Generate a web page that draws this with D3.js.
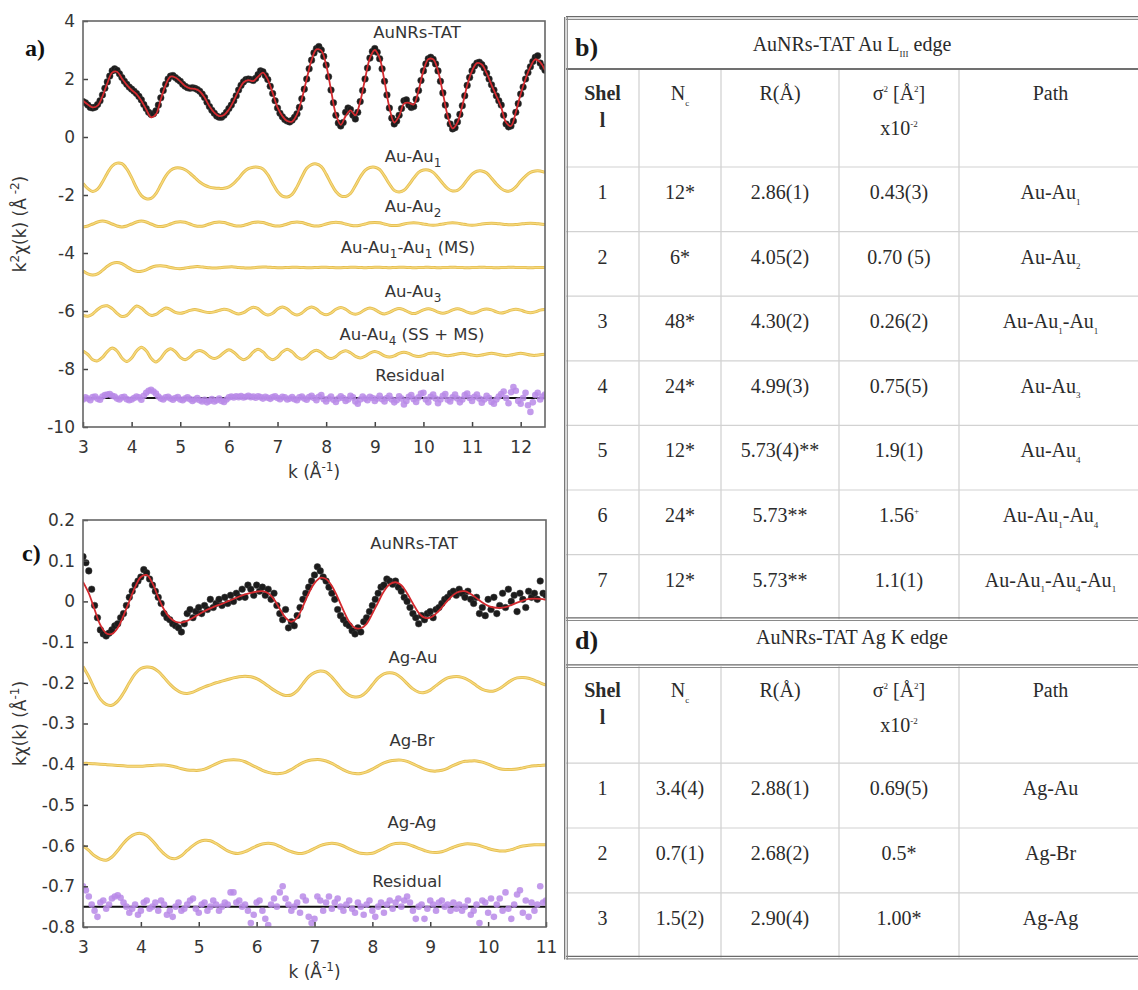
<!DOCTYPE html>
<html>
<head>
<meta charset="utf-8">
<script src="https://cdn.jsdelivr.net/npm/d3@7"></script>
<style>
  body { margin: 0; background: #fff; }
  svg { display: block; }
</style>
</head>
<body>
<svg id="fig" width="1138" height="990"></svg>
<script>
// ---------------- EXAFS data: k grid starts at 3 Å^-1 ----------------
const K_START = 3;
const FIT_STEP = 0.1;   // model curves sampled every 0.1 Å^-1
const DOT_STEP = 0.05;  // measured points every 0.05 Å^-1

// Au L3 edge, k^2-weighted chi(k)
const auFit = [
  1.25,1.12,1.02,1.08,1.40,1.85,2.22,2.25,2.02,1.80,
  1.62,1.48,1.25,0.95,0.68,0.78,1.30,1.80,2.08,2.05,
  1.92,1.76,1.68,1.66,1.58,1.36,1.06,0.84,0.72,0.76,
  0.95,1.25,1.60,1.88,1.96,1.93,2.08,2.22,1.98,1.52,
  1.02,0.72,0.55,0.53,0.78,1.32,2.00,2.65,3.02,2.98,
  2.48,1.62,0.78,0.42,0.72,0.92,0.75,1.22,2.00,2.72,
  3.00,2.72,1.92,1.02,0.50,0.72,1.15,1.18,1.12,1.60,
  2.28,2.68,2.68,2.28,1.52,0.72,0.30,0.50,1.08,1.78,
  2.28,2.55,2.50,2.20,1.80,1.42,1.02,0.50,0.38,0.85,
  1.48,2.00,2.42,2.68,2.58,2.30
];
const auData = [
  1.22,1.18,1.10,1.02,1.00,1.03,1.12,1.25,1.45,1.68,1.90,2.10,2.28,2.35,2.30,2.18,2.05,1.92,1.82,1.72,
  1.65,1.58,1.50,1.40,1.28,1.12,0.98,0.85,0.78,0.80,0.90,1.10,1.35,1.60,1.82,2.00,2.10,2.12,2.05,1.98,
  1.92,1.82,1.75,1.70,1.68,1.70,1.68,1.64,1.58,1.48,1.36,1.20,1.05,0.92,0.82,0.72,0.68,0.68,0.75,0.85,
  0.98,1.10,1.25,1.42,1.62,1.78,1.90,1.98,2.00,1.98,1.95,2.02,2.15,2.28,2.25,2.12,1.98,1.75,1.50,1.25,
  1.00,0.82,0.70,0.60,0.55,0.52,0.58,0.68,0.80,1.02,1.32,1.65,2.00,2.35,2.65,2.90,3.05,3.12,3.00,2.78,
  2.48,2.08,1.62,1.18,0.75,0.48,0.38,0.50,0.85,1.00,0.95,0.75,0.62,0.85,1.22,1.60,2.00,2.38,2.72,2.95,
  3.05,2.92,2.70,2.35,1.92,1.45,1.00,0.65,0.45,0.55,0.75,0.98,1.25,1.28,1.10,1.02,1.05,1.30,1.60,1.95,
  2.28,2.52,2.70,2.75,2.68,2.52,2.28,1.92,1.52,1.10,0.72,0.45,0.28,0.32,0.52,0.78,1.08,1.42,1.78,2.05,
  2.28,2.45,2.55,2.58,2.50,2.38,2.20,2.00,1.80,1.62,1.42,1.25,1.10,0.75,0.45,0.35,0.38,0.55,0.85,1.15,
  1.48,1.72,2.00,2.22,2.42,2.60,2.75,2.80,2.55,2.42,2.30
];
const auAu1 = [
  -1.60,-1.78,-1.88,-1.80,-1.55,-1.25,-1.00,-0.90,-0.92,-1.10,
  -1.40,-1.75,-2.02,-2.13,-2.12,-1.95,-1.65,-1.35,-1.15,-1.07,
  -1.07,-1.13,-1.25,-1.40,-1.55,-1.66,-1.73,-1.76,-1.77,-1.77,
  -1.72,-1.60,-1.42,-1.22,-1.09,-1.04,-1.04,-1.10,-1.30,-1.60,
  -1.88,-2.04,-2.07,-1.98,-1.72,-1.38,-1.08,-0.95,-0.93,-1.02,
  -1.28,-1.60,-1.88,-2.03,-2.05,-1.95,-1.68,-1.38,-1.15,-1.05,
  -1.04,-1.12,-1.35,-1.62,-1.84,-1.90,-1.84,-1.65,-1.42,-1.22,
  -1.14,-1.14,-1.22,-1.40,-1.60,-1.78,-1.86,-1.84,-1.70,-1.48,
  -1.28,-1.18,-1.17,-1.24,-1.42,-1.62,-1.78,-1.86,-1.85,-1.72,
  -1.52,-1.35,-1.22,-1.17,-1.17,-1.22
];
const auAu2 = [
  -3.10,-3.07,-3.00,-2.93,-2.90,-2.93,-3.00,-3.07,-3.10,-3.07,
  -3.00,-2.93,-2.90,-2.93,-3.00,-3.07,-3.09,-3.06,-3.00,-2.94,
  -2.92,-2.94,-3.00,-3.06,-3.08,-3.06,-3.00,-2.95,-2.93,-2.95,
  -3.00,-3.05,-3.07,-3.05,-3.00,-2.95,-2.93,-2.95,-3.00,-3.05,
  -3.07,-3.05,-3.00,-2.95,-2.93,-2.95,-3.00,-3.05,-3.07,-3.05,
  -3.00,-2.96,-2.94,-2.96,-3.00,-3.04,-3.06,-3.04,-3.00,-2.96,
  -2.95,-2.96,-3.00,-3.04,-3.05,-3.04,-3.00,-2.97,-2.96,-2.97,
  -3.00,-3.03,-3.04,-3.03,-3.00,-2.97,-2.96,-2.97,-3.00,-3.03,
  -3.04,-3.03,-3.00,-2.98,-2.97,-2.98,-3.00,-3.02,-3.03,-3.02,
  -3.00,-2.98,-2.97,-2.98,-3.00,-3.02
];
const auAu1Au1 = [
  -4.62,-4.72,-4.76,-4.72,-4.60,-4.46,-4.36,-4.33,-4.37,-4.47,
  -4.57,-4.63,-4.63,-4.58,-4.50,-4.45,-4.44,-4.46,-4.50,-4.53,
  -4.54,-4.52,-4.49,-4.47,-4.47,-4.49,-4.51,-4.52,-4.51,-4.49,
  -4.48,-4.48,-4.50,-4.51,-4.52,-4.51,-4.49,-4.48,-4.49,-4.50,
  -4.51,-4.51,-4.50,-4.49,-4.49,-4.50,-4.51,-4.51,-4.50,-4.49,
  -4.49,-4.50,-4.51,-4.51,-4.50,-4.49,-4.49,-4.50,-4.51,-4.50,
  -4.49,-4.49,-4.50,-4.51,-4.50,-4.49,-4.49,-4.50,-4.51,-4.50,
  -4.50,-4.49,-4.50,-4.51,-4.50,-4.50,-4.49,-4.50,-4.50,-4.51,
  -4.50,-4.50,-4.49,-4.50,-4.50,-4.51,-4.50,-4.50,-4.49,-4.50,
  -4.50,-4.50,-4.51,-4.50,-4.50,-4.50
];
const auAu3 = [
  -6.15,-6.18,-6.10,-5.95,-5.84,-5.82,-5.92,-6.08,-6.19,-6.15,
  -5.98,-5.83,-5.90,-6.05,-6.15,-6.12,-6.00,-5.90,-5.95,-6.05,
  -6.08,-6.04,-5.98,-5.95,-5.98,-6.03,-6.05,-6.03,-5.98,-5.94,
  -5.97,-6.05,-6.10,-6.06,-5.95,-5.87,-5.92,-6.06,-6.14,-6.08,
  -5.93,-5.86,-5.93,-6.07,-6.14,-6.07,-5.93,-5.86,-5.93,-6.07,
  -6.13,-6.07,-5.94,-5.88,-5.94,-6.06,-6.11,-6.06,-5.95,-5.90,
  -5.95,-6.05,-6.10,-6.05,-5.96,-5.91,-5.96,-6.04,-6.09,-6.04,
  -5.96,-5.92,-5.96,-6.04,-6.08,-6.04,-5.96,-5.92,-5.96,-6.04,
  -6.08,-6.04,-5.96,-5.93,-5.96,-6.03,-6.07,-6.03,-5.97,-5.94,
  -5.97,-6.03,-6.06,-6.03,-5.97,-5.95
];
const auAu4 = [
  -7.38,-7.50,-7.68,-7.72,-7.60,-7.40,-7.28,-7.38,-7.62,-7.74,
  -7.62,-7.38,-7.25,-7.37,-7.63,-7.76,-7.63,-7.40,-7.30,-7.40,
  -7.60,-7.68,-7.58,-7.42,-7.36,-7.43,-7.57,-7.64,-7.57,-7.43,
  -7.34,-7.42,-7.58,-7.68,-7.60,-7.42,-7.32,-7.41,-7.59,-7.68,
  -7.59,-7.41,-7.32,-7.41,-7.58,-7.66,-7.58,-7.42,-7.35,-7.43,
  -7.57,-7.64,-7.57,-7.43,-7.37,-7.44,-7.56,-7.62,-7.56,-7.45,
  -7.40,-7.45,-7.55,-7.59,-7.55,-7.46,-7.42,-7.46,-7.54,-7.57,
  -7.54,-7.47,-7.45,-7.47,-7.52,-7.54,-7.52,-7.48,-7.46,-7.48,
  -7.52,-7.54,-7.52,-7.48,-7.46,-7.48,-7.52,-7.54,-7.52,-7.48,
  -7.46,-7.48,-7.52,-7.53,-7.51,-7.49
];
const auResidual = [
  -9.05,-8.98,-9.02,-9.08,-8.97,-8.95,-9.03,-9.06,-8.95,-8.90,-8.88,-8.86,-8.92,-8.95,-9.02,-9.05,-8.98,-8.96,-9.04,-9.08,
  -9.05,-9.00,-8.95,-8.98,-9.06,-8.92,-8.82,-8.75,-8.72,-8.78,-8.85,-8.95,-9.02,-9.05,-8.98,-8.96,-9.02,-9.06,-9.00,-8.97,
  -9.05,-9.08,-9.02,-8.98,-9.04,-9.10,-9.05,-9.00,-9.08,-9.12,-9.06,-9.15,-9.10,-9.04,-9.12,-9.08,-9.02,-9.10,-9.14,-9.05,
  -8.98,-8.95,-8.98,-8.94,-8.97,-8.93,-8.98,-8.96,-8.92,-8.97,-8.95,-8.99,-8.94,-8.97,-9.02,-8.96,-8.99,-9.03,-8.97,-8.94,
  -9.00,-9.04,-8.96,-8.98,-9.05,-9.02,-8.97,-9.04,-9.08,-8.98,-8.95,-9.02,-9.06,-8.97,-8.92,-9.00,-9.08,-8.96,-8.90,-9.04,
  -9.12,-9.02,-8.95,-9.06,-9.14,-9.02,-8.94,-9.00,-9.10,-9.05,-8.92,-8.98,-9.12,-9.20,-9.05,-8.95,-9.02,-9.08,-8.96,-9.00,
  -9.10,-9.02,-8.92,-9.04,-9.12,-9.00,-8.92,-9.05,-9.15,-9.08,-8.94,-9.02,-9.22,-9.10,-8.96,-8.90,-9.04,-9.14,-8.98,-8.85,
  -8.82,-9.05,-9.15,-8.96,-8.88,-9.02,-9.18,-9.05,-8.92,-8.86,-9.06,-9.12,-8.98,-8.88,-9.02,-9.15,-9.05,-8.90,-8.85,-9.00,
  -9.10,-8.96,-8.88,-9.02,-9.16,-9.05,-8.92,-9.00,-9.14,-9.20,-9.05,-8.95,-8.86,-8.78,-9.00,-9.18,-8.80,-8.62,-8.75,-9.10,
  -9.20,-9.00,-8.82,-9.25,-9.48,-9.15,-8.90,-8.82,-9.05,-8.95,-8.88
];

// Ag K edge, k-weighted chi(k)
const agFit = [
  0.048,0.020,-0.020,-0.058,-0.078,-0.080,-0.065,-0.035,0.000,0.035,
  0.060,0.065,0.045,0.010,-0.020,-0.040,-0.050,-0.052,-0.048,-0.040,
  -0.032,-0.024,-0.017,-0.011,-0.006,0.000,0.006,0.012,0.017,0.021,
  0.024,0.025,0.020,0.005,-0.018,-0.040,-0.050,-0.040,-0.012,0.020,
  0.045,0.058,0.055,0.038,0.010,-0.022,-0.050,-0.065,-0.066,-0.055,
  -0.030,-0.002,0.025,0.042,0.047,0.040,0.020,-0.005,-0.028,-0.040,
  -0.040,-0.030,-0.015,0.002,0.016,0.024,0.025,0.018,0.008,-0.003,
  -0.011,-0.015,-0.016,-0.014,-0.009,-0.003,0.002,0.006,0.007,0.006,
  0.004
];
const agData = [
  0.110,0.095,0.075,0.030,-0.010,-0.040,-0.070,-0.080,-0.085,-0.078,-0.070,-0.060,-0.055,-0.040,-0.030,-0.010,0.010,0.025,0.040,0.050,
  0.060,0.078,0.070,0.055,0.040,0.025,0.010,-0.005,-0.030,-0.040,-0.045,-0.055,-0.060,-0.065,-0.075,-0.055,-0.030,-0.020,-0.040,-0.025,
  -0.015,-0.030,-0.010,-0.020,0.005,-0.015,-0.005,0.005,-0.010,0.010,-0.005,0.015,0.000,0.020,0.010,0.030,0.010,0.040,0.030,0.015,
  0.040,0.025,0.035,0.015,0.030,0.005,0.020,-0.010,-0.030,-0.045,-0.020,-0.065,-0.050,-0.060,-0.035,-0.015,0.005,0.020,0.035,0.050,
  0.065,0.085,0.075,0.060,0.050,0.035,0.020,0.005,-0.020,-0.035,-0.045,-0.055,-0.060,-0.072,-0.080,-0.065,-0.075,-0.050,-0.040,-0.025,
  -0.010,0.005,0.020,0.035,0.040,0.055,0.050,0.042,0.050,0.035,0.025,0.010,0.000,-0.015,-0.030,-0.040,-0.055,-0.035,-0.045,-0.030,
  -0.025,-0.040,-0.020,-0.015,-0.005,0.005,0.010,0.020,0.025,0.015,0.030,0.020,0.010,0.025,0.005,-0.005,0.010,-0.030,-0.015,-0.035,
  0.005,-0.020,0.010,-0.030,-0.010,0.020,-0.015,0.030,0.000,0.015,-0.025,0.020,0.005,-0.015,0.025,0.010,0.020,0.005,0.050,0.020,
  0.015
];
const agAu = [
  -0.160,-0.185,-0.215,-0.240,-0.253,-0.255,-0.245,-0.225,-0.200,-0.178,
  -0.165,-0.161,-0.163,-0.172,-0.187,-0.203,-0.216,-0.224,-0.226,-0.223,
  -0.216,-0.210,-0.205,-0.200,-0.196,-0.192,-0.188,-0.185,-0.184,-0.185,
  -0.190,-0.198,-0.208,-0.218,-0.226,-0.231,-0.230,-0.220,-0.202,-0.185,
  -0.175,-0.171,-0.174,-0.186,-0.203,-0.220,-0.231,-0.235,-0.233,-0.222,
  -0.205,-0.188,-0.178,-0.175,-0.178,-0.188,-0.202,-0.215,-0.223,-0.224,
  -0.218,-0.207,-0.196,-0.188,-0.185,-0.185,-0.189,-0.197,-0.207,-0.216,
  -0.220,-0.220,-0.214,-0.204,-0.194,-0.188,-0.187,-0.189,-0.194,-0.200,
  -0.206
];
const agBr = [
  -0.398,-0.398,-0.399,-0.400,-0.401,-0.402,-0.403,-0.404,-0.405,-0.405,
  -0.405,-0.404,-0.403,-0.402,-0.402,-0.404,-0.407,-0.411,-0.414,-0.415,
  -0.415,-0.412,-0.406,-0.399,-0.393,-0.390,-0.389,-0.390,-0.394,-0.401,
  -0.408,-0.415,-0.420,-0.423,-0.423,-0.420,-0.413,-0.404,-0.396,-0.391,
  -0.389,-0.389,-0.392,-0.398,-0.406,-0.414,-0.420,-0.423,-0.423,-0.419,
  -0.412,-0.404,-0.397,-0.392,-0.390,-0.390,-0.393,-0.399,-0.406,-0.412,
  -0.416,-0.417,-0.415,-0.410,-0.403,-0.397,-0.393,-0.392,-0.392,-0.395,
  -0.400,-0.406,-0.411,-0.413,-0.413,-0.412,-0.409,-0.406,-0.404,-0.403,
  -0.402
];
const agAg = [
  -0.600,-0.612,-0.625,-0.633,-0.636,-0.628,-0.612,-0.594,-0.580,-0.572,
  -0.570,-0.575,-0.588,-0.605,-0.620,-0.630,-0.632,-0.625,-0.612,-0.600,
  -0.591,-0.587,-0.588,-0.595,-0.604,-0.613,-0.618,-0.619,-0.615,-0.608,
  -0.601,-0.596,-0.594,-0.596,-0.602,-0.609,-0.615,-0.619,-0.619,-0.614,
  -0.607,-0.600,-0.596,-0.594,-0.596,-0.601,-0.608,-0.614,-0.619,-0.620,
  -0.619,-0.613,-0.606,-0.599,-0.595,-0.594,-0.596,-0.601,-0.607,-0.612,
  -0.616,-0.617,-0.615,-0.610,-0.604,-0.599,-0.596,-0.596,-0.598,-0.602,
  -0.607,-0.611,-0.613,-0.613,-0.610,-0.605,-0.601,-0.599,-0.598,-0.598,
  -0.598
];
const agResidual = [
  -0.700,-0.710,-0.725,-0.745,-0.760,-0.775,-0.740,-0.735,-0.755,-0.745,-0.730,-0.725,-0.722,-0.728,-0.740,-0.750,-0.765,-0.755,-0.745,-0.770,
  -0.760,-0.740,-0.735,-0.755,-0.750,-0.740,-0.760,-0.735,-0.745,-0.770,-0.760,-0.775,-0.750,-0.740,-0.760,-0.755,-0.745,-0.735,-0.730,-0.755,
  -0.765,-0.745,-0.740,-0.760,-0.750,-0.735,-0.745,-0.760,-0.750,-0.740,-0.745,-0.715,-0.715,-0.740,-0.735,-0.750,-0.745,-0.760,-0.790,-0.770,
  -0.740,-0.735,-0.760,-0.780,-0.795,-0.745,-0.730,-0.750,-0.715,-0.700,-0.730,-0.745,-0.760,-0.750,-0.740,-0.765,-0.725,-0.735,-0.775,-0.790,
  -0.780,-0.725,-0.735,-0.760,-0.740,-0.725,-0.755,-0.740,-0.730,-0.750,-0.760,-0.745,-0.735,-0.755,-0.765,-0.740,-0.750,-0.770,-0.745,-0.735,
  -0.760,-0.775,-0.750,-0.740,-0.765,-0.745,-0.735,-0.755,-0.740,-0.730,-0.750,-0.735,-0.725,-0.740,-0.760,-0.780,-0.750,-0.745,-0.780,-0.755,
  -0.735,-0.745,-0.760,-0.740,-0.735,-0.750,-0.745,-0.760,-0.740,-0.755,-0.745,-0.760,-0.750,-0.735,-0.770,-0.760,-0.745,-0.790,-0.735,-0.740,
  -0.765,-0.730,-0.775,-0.745,-0.730,-0.760,-0.715,-0.755,-0.780,-0.745,-0.720,-0.710,-0.765,-0.735,-0.775,-0.740,-0.760,-0.745,-0.700,-0.740,
  -0.735
];

// axis ticks
const auXTicks = [3,4,5,6,7,8,9,10,11,12];
const auYTicks = [4,2,0,-2,-4,-6,-8,-10];
const agXTicks = [3,4,5,6,7,8,9,10,11];
const agYTicks = [0.2,0.1,0,-0.1,-0.2,-0.3,-0.4,-0.5,-0.6,-0.7,-0.8];
const agYTickLabels = ["0.2","0.1","0","-0.1","-0.2","-0.3","-0.4","-0.5","-0.6","-0.7","-0.8"];

// residual reference levels
const auResidualLevel = -9;
const agResidualLevel = -0.75;

// curve labels (markup: _{} subscript, ^{} superscript)
const auLabels = ["AuNRs-TAT","Au-Au_{1}","Au-Au_{2}","Au-Au_{1}-Au_{1} (MS)","Au-Au_{3}","Au-Au_{4} (SS + MS)","Residual"];
const agLabels = ["AuNRs-TAT","Ag-Au","Ag-Br","Ag-Ag","Residual"];

// fitted parameter tables
const tableHeader = ["Shel|l","N_{c}","R(Å)","σ^{2} [Å^{2}]|x10^{-2}","Path"];
const auTableTitle = "AuNRs-TAT Au L_{III} edge";
const auTableRows = [
  ["1","12*","2.86(1)","0.43(3)","Au-Au_{1}"],
  ["2","6*","4.05(2)","0.70 (5)","Au-Au_{2}"],
  ["3","48*","4.30(2)","0.26(2)","Au-Au_{1}-Au_{1}"],
  ["4","24*","4.99(3)","0.75(5)","Au-Au_{3}"],
  ["5","12*","5.73(4)**","1.9(1)","Au-Au_{4}"],
  ["6","24*","5.73**","1.56^{+}","Au-Au_{1}-Au_{4}"],
  ["7","12*","5.73**","1.1(1)","Au-Au_{1}-Au_{4}-Au_{1}"]
];
const agTableTitle = "AuNRs-TAT Ag K edge";
const agTableRows = [
  ["1","3.4(4)","2.88(1)","0.69(5)","Ag-Au"],
  ["2","0.7(1)","2.68(2)","0.5*","Ag-Br"],
  ["3","1.5(2)","2.90(4)","1.00*","Ag-Ag"]
];

// ---------------- drawing ----------------
const svg = d3.select("#fig");
svg.append("rect").attr("width", 1138).attr("height", 990).attr("fill", "#fff");

const SANS = "'DejaVu Sans', Verdana, sans-serif";
const SERIF = "'Liberation Serif', 'Times New Roman', serif";
const INK = "#353535";

// parse "_{...}" and "^{...}" markup into parts
function parseMarkup(s) {
  const parts = [];
  const re = /([_^])\{([^}]*)\}/g;
  let last = 0, m;
  while ((m = re.exec(s)) !== null) {
    if (m.index > last) parts.push({ t: s.slice(last, m.index) });
    parts.push({ t: m[2], sub: m[1] === "_", sup: m[1] === "^" });
    last = re.lastIndex;
  }
  if (last < s.length) parts.push({ t: s.slice(last) });
  return parts;
}

function richText(textSel, str, size, smallSize) {
  let shift = 0;
  parseMarkup(str).forEach(p => {
    const target = p.sub ? size * 0.28 : p.sup ? -size * 0.42 : 0;
    const ts = textSel.append("tspan").text(p.t).attr("dy", target - shift);
    if (p.sub || p.sup) ts.attr("font-size", smallSize);
    shift = target;
  });
  return textSel;
}

const series = (vals, step) => vals.map((v, i) => ({ k: K_START + i * step, v }));

function drawPanel(cfg) {
  const g = svg.append("g");
  const x = d3.scaleLinear().domain(cfg.xDomain).range([cfg.left, cfg.right]);
  const y = d3.scaleLinear().domain(cfg.yDomain).range([cfg.bottom, cfg.top]);

  const clipId = "clip-" + cfg.id;
  svg.append("clipPath").attr("id", clipId).append("rect")
    .attr("x", cfg.left).attr("y", cfg.top)
    .attr("width", cfg.right - cfg.left).attr("height", cfg.bottom - cfg.top);

  const plot = g.append("g").attr("clip-path", `url(#${clipId})`);
  const line = d3.line().x(d => x(d.k)).y(d => y(d.v)).curve(d3.curveCatmullRom.alpha(0.5));

  // single-path contributions
  cfg.paths.forEach(p => {
    plot.append("path").datum(series(p, FIT_STEP))
      .attr("d", line).attr("fill", "none")
      .attr("stroke", "#e4bd50").attr("stroke-width", 3).attr("stroke-linejoin", "round");
    plot.append("path").datum(series(p, FIT_STEP))
      .attr("d", line).attr("fill", "none")
      .attr("stroke", "#f7da7e").attr("stroke-width", 1.3);
  });

  // residual
  plot.append("line")
    .attr("x1", cfg.left).attr("x2", cfg.right)
    .attr("y1", y(cfg.resLevel)).attr("y2", y(cfg.resLevel))
    .attr("stroke", "#111").attr("stroke-width", 2);
  plot.append("g").selectAll("circle").data(series(cfg.residual, DOT_STEP)).join("circle")
    .attr("cx", d => x(d.k)).attr("cy", d => y(d.v)).attr("r", 3.3)
    .attr("fill", "#b98ae8").attr("fill-opacity", 0.85);

  // measured data and fit
  plot.append("g").selectAll("circle").data(series(cfg.data, DOT_STEP)).join("circle")
    .attr("cx", d => x(d.k)).attr("cy", d => y(d.v)).attr("r", 3.3)
    .attr("fill", "#1c1c1c").attr("stroke", "#3a3a3a").attr("stroke-width", 0.5);
  plot.append("path").datum(series(cfg.fit, FIT_STEP))
    .attr("d", line).attr("fill", "none")
    .attr("stroke", "#d42a2f").attr("stroke-width", 1.8);

  // axes
  const xAxis = d3.axisBottom(x).tickValues(cfg.xTicks).tickFormat(d3.format("d"))
    .tickSizeInner(-5).tickSizeOuter(0).tickPadding(14);
  const yAxis = d3.axisLeft(y).tickValues(cfg.yTicks)
    .tickFormat((d, i) => cfg.yTickLabels ? cfg.yTickLabels[i] : String(d))
    .tickSizeInner(-5).tickSizeOuter(0).tickPadding(8);
  const gx = g.append("g").attr("transform", `translate(0,${cfg.bottom})`).call(xAxis);
  const gy = g.append("g").attr("transform", `translate(${cfg.left},0)`).call(yAxis);
  [gx, gy].forEach(a => {
    a.select(".domain").remove();
    a.selectAll(".tick line").attr("stroke", "#444").attr("stroke-width", 1.5);
    a.selectAll(".tick text").attr("font-family", SANS).attr("font-size", 17).attr("fill", INK);
  });

  // frame
  g.append("rect").attr("x", cfg.left).attr("y", cfg.top)
    .attr("width", cfg.right - cfg.left).attr("height", cfg.bottom - cfg.top)
    .attr("fill", "none").attr("stroke", "#666").attr("stroke-width", 1.6);

  // curve labels
  cfg.labels.forEach((s, i) => {
    const t = g.append("text").attr("x", cfg.labelPos[i][0]).attr("y", cfg.labelPos[i][1])
      .attr("text-anchor", "middle").attr("font-family", SANS).attr("font-size", 16.5).attr("fill", INK);
    richText(t, s, 16.5, 12);
  });

  // axis titles
  const xt = g.append("text").attr("x", (cfg.left + cfg.right) / 2).attr("y", cfg.bottom + 51)
    .attr("text-anchor", "middle").attr("font-family", SANS).attr("font-size", 17).attr("fill", INK);
  richText(xt, "k (Å^{-1})", 17, 12);
  const yt = g.append("text")
    .attr("transform", `translate(26,${(cfg.top + cfg.bottom) / 2}) rotate(-90)`)
    .attr("text-anchor", "middle").attr("font-family", SANS).attr("font-size", 17).attr("fill", INK);
  richText(yt, cfg.yTitle, 17, 12);

  // panel letter
  g.append("text").attr("x", cfg.letterPos[0]).attr("y", cfg.letterPos[1])
    .attr("font-family", SERIF).attr("font-weight", "bold").attr("font-size", 24).attr("fill", "#111")
    .text(cfg.letter);
}

drawPanel({
  id: "au", letter: "a)", letterPos: [25, 56],
  left: 83, right: 545, top: 21, bottom: 427,
  xDomain: [3, 12.5], yDomain: [-10, 4],
  xTicks: auXTicks, yTicks: auYTicks,
  fit: auFit, data: auData,
  paths: [auAu1, auAu2, auAu1Au1, auAu3, auAu4],
  residual: auResidual, resLevel: auResidualLevel,
  labels: auLabels,
  labelPos: [[417, 38], [413, 162], [413, 212], [408, 253], [413, 297], [412, 340], [410, 381]],
  yTitle: "k^{2}χ(k) (Å^{ -2})"
});

drawPanel({
  id: "ag", letter: "c)", letterPos: [22, 561],
  left: 83, right: 546, top: 520, bottom: 927,
  xDomain: [3, 11], yDomain: [-0.8, 0.2],
  xTicks: agXTicks, yTicks: agYTicks, yTickLabels: agYTickLabels,
  fit: agFit, data: agData,
  paths: [agAu, agBr, agAg],
  residual: agResidual, resLevel: agResidualLevel,
  labels: agLabels,
  labelPos: [[414, 549], [413, 663], [412, 746], [412, 828], [407, 887]],
  yTitle: "kχ(k) (Å^{-1})"
});

// ---------------- tables ----------------
const colEdges = [566, 639, 721, 839, 959, 1142];
const colCenter = i => (colEdges[i] + colEdges[i + 1]) / 2;
const tableMid = (colEdges[0] + 1138) / 2;
const CELL_SIZE = 20;

function hLine(y, x1, x2, color, w) {
  svg.append("line").attr("x1", x1).attr("x2", x2).attr("y1", y).attr("y2", y)
    .attr("stroke", color).attr("stroke-width", w);
}
function vLine(x, y1, y2, color, w) {
  svg.append("line").attr("x1", x).attr("x2", x).attr("y1", y1).attr("y2", y2)
    .attr("stroke", color).attr("stroke-width", w);
}
function doubleH(y) {
  hLine(y - 1.3, colEdges[0], colEdges[5], "#6a6a6a", 1.2);
  hLine(y + 1.3, colEdges[0], colEdges[5], "#8a8a8a", 1.2);
}

function cellText(x, y, str, size, bold) {
  const t = svg.append("text").attr("x", x).attr("y", y).attr("text-anchor", "middle")
    .attr("font-family", SERIF).attr("font-size", size).attr("fill", "#2b2b2b")
    .attr("font-weight", bold ? "bold" : "normal");
  richText(t, str, size, 9);
  return t;
}

function drawTable(cfg) {
  const headerTop = cfg.top + cfg.titleH;
  const rowsTop = headerTop + cfg.headerH;
  const bottom = rowsTop + cfg.rows.length * cfg.rowH;

  // light grid
  for (let i = 1; i < 5; i++) vLine(colEdges[i], headerTop, bottom, "#cfcfcf", 1.2);
  cfg.rows.forEach((r, i) => hLine(rowsTop + i * cfg.rowH, colEdges[0], colEdges[5], "#d2d2d2", 1.2));

  // title row
  svg.append("text").attr("x", colEdges[0] + 9).attr("y", cfg.top + cfg.letterDy)
    .attr("font-family", SERIF).attr("font-weight", "bold").attr("font-size", 26).attr("fill", "#1a1a1a")
    .text(cfg.letter);
  cellText(tableMid, cfg.top + cfg.titleDy, cfg.title, CELL_SIZE, false);

  // header
  tableHeader.forEach((h, i) => {
    const lines = h.split("|");
    cellText(colCenter(i), headerTop + 31, lines[0], CELL_SIZE, i === 0);
    if (lines[1]) {
      const dy = i === 0 ? 58 : 66;
      cellText(colCenter(i), headerTop + dy, lines[1], CELL_SIZE, i === 0);
    }
  });

  // rows
  cfg.rows.forEach((r, ri) => {
    r.forEach((c, ci) => cellText(colCenter(ci), rowsTop + ri * cfg.rowH + 32, c, CELL_SIZE, false));
  });

  return { headerTop, bottom };
}

const tb = drawTable({ letter: "b)", title: auTableTitle, rows: auTableRows, top: 18,
  titleH: 51, headerH: 98, rowH: 64.6, titleDy: 33, letterDy: 38 });
const td = drawTable({ letter: "d)", title: agTableTitle, rows: agTableRows, top: tb.bottom,
  titleH: 47, headerH: 97, rowH: 64.8, titleDy: 25, letterDy: 30 });

// heavy rules and outer border
doubleH(18);
hLine(tb.headerTop, colEdges[0], colEdges[5], "#707070", 2.2);
doubleH(tb.bottom);
doubleH(td.headerTop);
doubleH(td.bottom);
vLine(colEdges[0] - 1.3, 17, td.bottom + 2, "#6a6a6a", 1.2);
vLine(colEdges[0] + 1.3, 17, td.bottom + 2, "#8a8a8a", 1.2);
</script>
</body>
</html>
